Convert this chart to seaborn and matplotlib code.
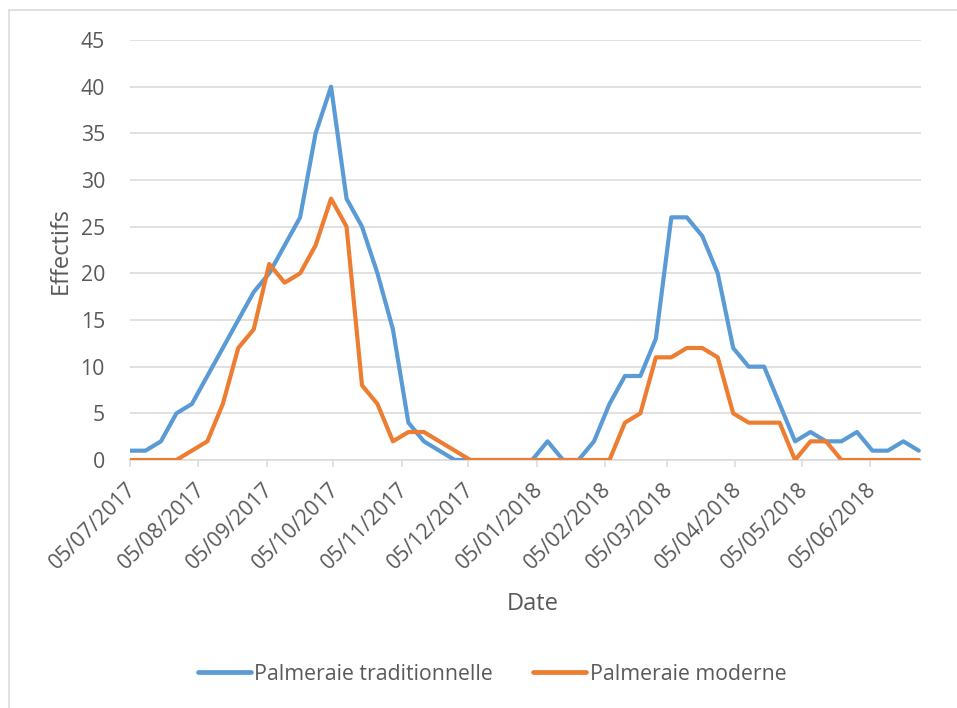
import matplotlib
matplotlib.use("Agg")
import matplotlib.pyplot as plt
import matplotlib.transforms as mtransforms
from matplotlib.patches import Rectangle
import pandas as pd
import seaborn as sns

# Weekly counts, starting 05/07/2017
start_date = "2017-07-05"
n_weeks = 52
traditionnelle = [1, 1, 2, 5, 6, 9, 12, 15, 18, 20,
                  23, 26, 35, 40, 28, 25, 20, 14, 4, 2,
                  1, 0, 0, 0, 0, 0, 0, 2, 0, 0,
                  2, 6, 9, 9, 13, 26, 26, 24, 20, 12,
                  10, 10, 6, 2, 3, 2, 2, 3, 1, 1,
                  2, 1]
moderne = [0, 0, 0, 0, 1, 2, 6, 12, 14, 21,
           19, 20, 23, 28, 25, 8, 6, 2, 3, 3,
           2, 1, 0, 0, 0, 0, 0, 0, 0, 0,
           0, 0, 4, 5, 11, 11, 12, 12, 11, 5,
           4, 4, 4, 0, 2, 2, 0, 0, 0, 0,
           0, 0]
series_names = ["Palmeraie traditionnelle", "Palmeraie moderne"]
series_colors = ["#5B9BD5", "#ED7D31"]
tick_dates = ["2017-07-05", "2017-08-05", "2017-09-05", "2017-10-05",
              "2017-11-05", "2017-12-05", "2018-01-05", "2018-02-05",
              "2018-03-05", "2018-04-05", "2018-05-05", "2018-06-05"]
y_ticks = [0, 5, 10, 15, 20, 25, 30, 35, 40, 45]

dates = pd.date_range(start_date, periods=n_weeks, freq="7D")
df = pd.concat([
    pd.DataFrame({"Date": dates, "Effectifs": traditionnelle, "Série": series_names[0]}),
    pd.DataFrame({"Date": dates, "Effectifs": moderne, "Série": series_names[1]}),
])

sns.set_theme(style="white")
plt.rcParams["font.family"] = ["Open Sans", "DejaVu Sans"]
text_color = "#595959"
grid_color = "#d9d9d9"
fs = 15.3

W, H = 957, 708
fig = plt.figure(figsize=(W / 100, H / 100), dpi=100)
ax = fig.add_axes([130 / W, 1 - 460 / H, (921 - 130) / W, (460 - 40) / H])

sns.lineplot(data=df, x="Date", y="Effectifs", hue="Série",
             palette=dict(zip(series_names, series_colors)),
             linewidth=3.0, ax=ax, legend=False,
             solid_joinstyle="round", solid_capstyle="round")

ax.set_xlim(pd.Timestamp(start_date), pd.Timestamp("2018-06-28"))
ax.set_ylim(0, 45)
ax.set_yticks(y_ticks)
ax.yaxis.grid(True, color=grid_color, linewidth=1.1)
ax.set_axisbelow(True)
for side in ["left", "right", "top"]:
    ax.spines[side].set_visible(False)
ax.spines["bottom"].set_color(grid_color)
ax.spines["bottom"].set_linewidth(1.1)
ax.spines["bottom"].set_zorder(0.5)

ticks = [pd.Timestamp(d) for d in tick_dates]
ax.set_xticks(ticks)
ax.set_xticklabels([t.strftime("%d/%m/%Y") for t in ticks])
ax.tick_params(axis="x", bottom=True, length=5, width=1.1, color=grid_color,
               labelsize=fs, labelcolor=text_color, pad=14)
ax.tick_params(axis="y", left=False, labelsize=fs, labelcolor=text_color, pad=12)

offset = mtransforms.ScaledTranslation(3 / 100, 0, fig.dpi_scale_trans)
for lbl in ax.get_xticklabels():
    lbl.set_rotation(45)
    lbl.set_rotation_mode("anchor")
    lbl.set_ha("right")
    lbl.set_va("center")
    lbl.set_transform(lbl.get_transform() + offset)

ax.set_xlabel("Date", fontsize=17, color=text_color)
ax.set_ylabel("Effectifs", fontsize=17, color=text_color)
ax.xaxis.set_label_coords((533 - 130) / (921 - 130), -(592 - 460) / (460 - 40))
ax.yaxis.set_label_coords(-(130 - 73) / (921 - 130), 0.5)

handles = [plt.Line2D([], [], color=c, linewidth=3.4, solid_capstyle="round")
           for c in series_colors]
leg = fig.legend(handles, series_names, loc="center",
                 bbox_to_anchor=(492 / W, 1 - 674 / H), ncol=2, frameon=False,
                 fontsize=fs, handlelength=2.5, handletextpad=0.15,
                 columnspacing=1.9, borderpad=0)
for t in leg.get_texts():
    t.set_color(text_color)

# chart area border
fig.add_artist(Rectangle((9 / W, -0.1), 1.2, 1 - 10 / H + 0.1,
                         transform=fig.transFigure, fill=False,
                         edgecolor=grid_color, linewidth=1.1))

fig.savefig("out.png", dpi=100, facecolor="white")
